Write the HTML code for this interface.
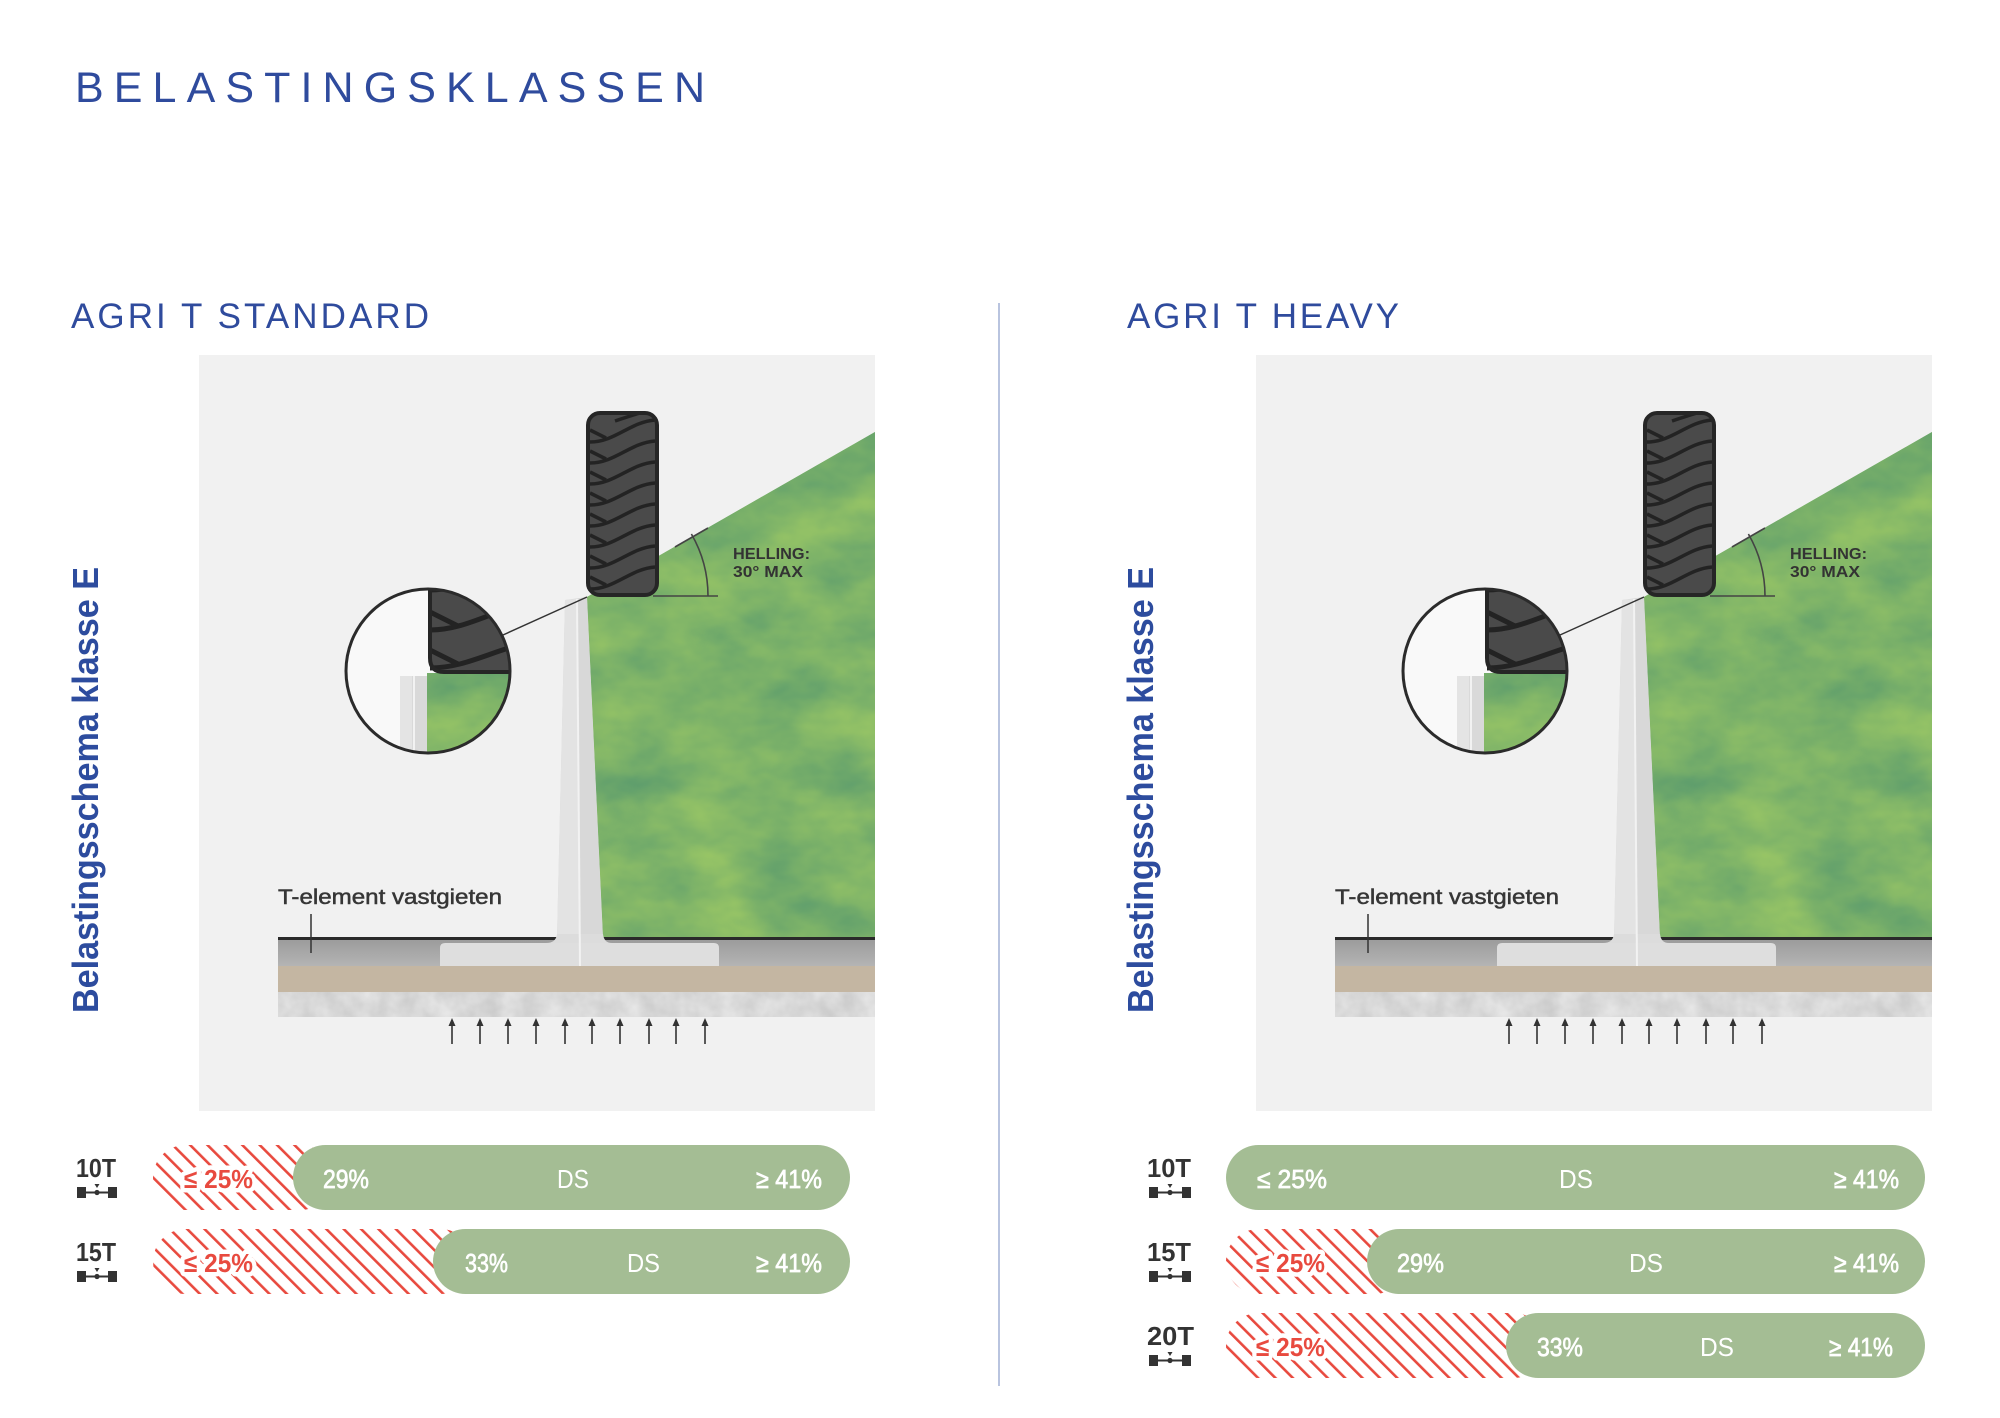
<!DOCTYPE html>
<html>
<head>
<meta charset="utf-8">
<style>
  html,body{margin:0;padding:0;background:#fff;}
  body{width:2000px;height:1418px;overflow:hidden;}
  svg{display:block;}
</style>
</head>
<body>
<svg width="2000" height="1418" viewBox="0 0 2000 1418" xmlns="http://www.w3.org/2000/svg" xmlns:xlink="http://www.w3.org/1999/xlink" font-family="'Liberation Sans', Arial, sans-serif">
  <defs>
    <filter id="grass" x="0" y="0" width="1" height="1" color-interpolation-filters="sRGB">
      <feTurbulence type="fractalNoise" baseFrequency="0.012 0.02" numOctaves="4" seed="7"/>
      <feColorMatrix type="matrix" values="0.32 0 0 0 0.33  0.22 0 0 0 0.59  -0.04 0 0 0 0.43  0 0 0 0 1"/>
      <feComposite operator="in" in2="SourceGraphic"/>
    </filter>
    <filter id="concrete" x="0" y="0" width="1" height="1" color-interpolation-filters="sRGB">
      <feTurbulence type="fractalNoise" baseFrequency="0.05" numOctaves="3" seed="3"/>
      <feColorMatrix type="matrix" values="0.14 0 0 0 0.78  0.14 0 0 0 0.78  0.14 0 0 0 0.78  0 0 0 0 1"/>
      <feComposite operator="in" in2="SourceGraphic"/>
    </filter>
    <linearGradient id="grayLayer" x1="0" y1="0" x2="0" y2="1">
      <stop offset="0" stop-color="#9c9c9c"/>
      <stop offset="1" stop-color="#b4b4b4"/>
    </linearGradient>
    <pattern id="hatch" patternUnits="userSpaceOnUse" width="12.3" height="12.3" patternTransform="rotate(-45)">
      <rect x="0" y="0" width="2.6" height="12.3" fill="#e84a3f"/>
    </pattern>
    <clipPath id="tireClip"><rect x="588" y="413" width="69" height="182" rx="12"/></clipPath>
    <clipPath id="circClip"><circle cx="428" cy="671" r="82"/></clipPath>

    <g id="diag">
      <rect x="199" y="355" width="676" height="756" fill="#f1f1f1"/>
      <!-- green slope -->
      <polygon points="587,597 875,432 875,938 603,938" fill="#7db36b"/>
      <polygon points="587,597 875,432 875,938 603,938" fill="#7db36b" filter="url(#grass)"/>
      <!-- ground layers -->
      <rect x="278" y="940" width="597" height="26" fill="url(#grayLayer)"/>
      <rect x="278" y="966" width="597" height="26" fill="#c4b6a2"/>
      <rect x="278" y="992" width="597" height="25" fill="#d8d8d8"/>
      <rect x="278" y="992" width="597" height="25" fill="#d8d8d8" filter="url(#concrete)"/>
      <line x1="278" y1="938.5" x2="557" y2="938.5" stroke="#2a2a2a" stroke-width="3"/>
      <line x1="603" y1="938.5" x2="875" y2="938.5" stroke="#2a2a2a" stroke-width="3"/>
      <!-- base plate -->
      <path d="M440,966 L440,948 Q440,943 445,943 L714,943 Q719,943 719,948 L719,966 Z" fill="#dedede"/>
      <!-- wall -->
      <polygon points="565,600 587,597 603,938 557,938" fill="#d8d8d8"/>
      <polygon points="565,600 577,599 579,938 557,938" fill="#e3e3e3"/>
      <path d="M557,934 Q556,943 546,943 L612,943 Q604,943 603,934 Z" fill="#dcdcdc"/>
      <line x1="577" y1="599" x2="580" y2="966" stroke="#f2f2f2" stroke-width="2"/>
      <!-- arrows -->
      <g stroke="#333" stroke-width="1.6" fill="#333">
        <line x1="452" y1="1044" x2="452" y2="1024"/><polygon points="448.5,1026 452,1018 455.5,1026" stroke="none"/>
        <line x1="480" y1="1044" x2="480" y2="1024"/><polygon points="476.5,1026 480,1018 483.5,1026" stroke="none"/>
        <line x1="508" y1="1044" x2="508" y2="1024"/><polygon points="504.5,1026 508,1018 511.5,1026" stroke="none"/>
        <line x1="536" y1="1044" x2="536" y2="1024"/><polygon points="532.5,1026 536,1018 539.5,1026" stroke="none"/>
        <line x1="565" y1="1044" x2="565" y2="1024"/><polygon points="561.5,1026 565,1018 568.5,1026" stroke="none"/>
        <line x1="592" y1="1044" x2="592" y2="1024"/><polygon points="588.5,1026 592,1018 595.5,1026" stroke="none"/>
        <line x1="620" y1="1044" x2="620" y2="1024"/><polygon points="616.5,1026 620,1018 623.5,1026" stroke="none"/>
        <line x1="649" y1="1044" x2="649" y2="1024"/><polygon points="645.5,1026 649,1018 652.5,1026" stroke="none"/>
        <line x1="676" y1="1044" x2="676" y2="1024"/><polygon points="672.5,1026 676,1018 679.5,1026" stroke="none"/>
        <line x1="705" y1="1044" x2="705" y2="1024"/><polygon points="701.5,1026 705,1018 708.5,1026" stroke="none"/>
      </g>
      <!-- label -->
      <text x="278" y="904" font-size="21" fill="#363636" stroke="#363636" stroke-width="0.5" textLength="224" lengthAdjust="spacingAndGlyphs">T-element vastgieten</text>
      <line x1="311" y1="914" x2="311" y2="953" stroke="#333" stroke-width="1.5"/>
      <!-- tire -->
      <rect x="588" y="413" width="69" height="182" rx="12" fill="#4a4a4a"/>
      <g clip-path="url(#tireClip)" stroke="#232323" stroke-width="3.5" fill="none">
        <path d="M590,442 C615,442 630,422 655,420"/><path d="M590,430 L606,438"/>
        <path d="M590,463 C615,463 630,443 655,441"/><path d="M590,451 L606,459"/>
        <path d="M590,484 C615,484 630,464 655,462"/><path d="M590,472 L606,480"/>
        <path d="M590,505 C615,505 630,485 655,483"/><path d="M590,493 L606,501"/>
        <path d="M590,526 C615,526 630,506 655,504"/><path d="M590,514 L606,522"/>
        <path d="M590,547 C615,547 630,527 655,525"/><path d="M590,535 L606,543"/>
        <path d="M590,568 C615,568 630,548 655,546"/><path d="M590,556 L606,564"/>
        <path d="M590,589 C615,589 630,569 655,567"/><path d="M590,577 L606,585"/>
        <path d="M615,421 Q630,416 640,413"/>
      </g>
      <rect x="588" y="413" width="69" height="182" rx="12" fill="none" stroke="#262626" stroke-width="4"/>
      <!-- angle -->
      <line x1="653" y1="596" x2="718" y2="596" stroke="#444" stroke-width="1.6"/>
      <path d="M708,596 A124,124 0 0 0 691.4,534" fill="none" stroke="#444" stroke-width="1.6"/>
      <line x1="675" y1="547" x2="708" y2="528" stroke="#444" stroke-width="1.6"/>
      <text x="733" y="559" font-size="16" font-weight="bold" fill="#333" textLength="77" lengthAdjust="spacingAndGlyphs">HELLING:</text>
      <text x="733" y="577" font-size="16" font-weight="bold" fill="#333" textLength="70" lengthAdjust="spacingAndGlyphs">30° MAX</text>
      <!-- leader -->
      <line x1="503" y1="635" x2="587" y2="597" stroke="#333" stroke-width="1.5"/>
      <!-- magnifier -->
      <circle cx="428" cy="671" r="82" fill="#f9f9f9"/>
      <g clip-path="url(#circClip)">
        <rect x="427" y="673" width="110" height="90" fill="#86bb64"/>
        <rect x="427" y="673" width="110" height="90" fill="#86bb64" filter="url(#grass)"/>
        <path d="M400,763 L400,680 Q400,676 404,676 L427,676 L427,763 Z" fill="#d9d9d9"/>
        <rect x="400" y="676" width="12" height="90" fill="#e4e4e4"/>
        <line x1="414" y1="676" x2="414" y2="763" stroke="#f2f2f2" stroke-width="2"/>
        <path d="M430,560 L560,560 L560,672 L444,672 Q430,672 430,658 Z" fill="#4a4a4a"/>
        <g stroke="#232323" stroke-width="5" fill="none">
          <path d="M430,590 C470,590 500,565 545,560"/><path d="M430,576 L458,586"/>
          <path d="M430,630 C470,630 500,605 545,600"/><path d="M430,612 L458,626"/>
          <path d="M430,668 C470,668 500,645 545,640"/><path d="M430,650 L458,664"/>
          <path d="M470,570 L490,580"/>
        </g>
        <path d="M430,560 L430,658 Q430,672 444,672 L560,672" fill="none" stroke="#262626" stroke-width="4"/>
      </g>
      <circle cx="428" cy="671" r="82" fill="none" stroke="#2b2b2b" stroke-width="3"/>
    </g>
  </defs>

  <!-- Title -->
  <text x="75" y="102" font-size="43" fill="#2f4b9d" textLength="630" lengthAdjust="spacing">BELASTINGSKLASSEN</text>

  <!-- Section titles -->
  <text x="71" y="328" font-size="35" fill="#2f4b9d" textLength="358" lengthAdjust="spacing">AGRI T STANDARD</text>
  <text x="1127" y="328" font-size="35" fill="#2f4b9d" textLength="272" lengthAdjust="spacing">AGRI T HEAVY</text>

  <!-- Divider -->
  <line x1="999" y1="303" x2="999" y2="1386" stroke="#b9c4df" stroke-width="2"/>

  <!-- Vertical labels -->
  <text transform="translate(98,1013) rotate(-90)" font-size="36" font-weight="bold" fill="#2d4c9e" textLength="446" lengthAdjust="spacingAndGlyphs">Belastingsschema klasse E</text>
  <text transform="translate(1153,1013) rotate(-90)" font-size="36" font-weight="bold" fill="#2d4c9e" textLength="446" lengthAdjust="spacingAndGlyphs">Belastingsschema klasse E</text>

  <!-- Diagrams -->
  <use xlink:href="#diag" href="#diag"/>
  <use xlink:href="#diag" href="#diag" x="1057"/>

  <!-- Row labels with axle icons -->
  <g font-size="26" font-weight="bold" fill="#333">
    <text x="76" y="1177" textLength="40" lengthAdjust="spacingAndGlyphs">10T</text>
    <text x="76" y="1261" textLength="40" lengthAdjust="spacingAndGlyphs">15T</text>
    <text x="1147" y="1177" textLength="44" lengthAdjust="spacingAndGlyphs">10T</text>
    <text x="1147" y="1261" textLength="44" lengthAdjust="spacingAndGlyphs">15T</text>
    <text x="1147" y="1345" textLength="47" lengthAdjust="spacingAndGlyphs">20T</text>
  </g>
  <g fill="#333" stroke="#333">
    <g transform="translate(77,1187)">
      <rect x="0" y="0" width="9" height="11" stroke="none"/><rect x="31" y="0" width="9" height="11" stroke="none"/>
      <line x1="9" y1="5.5" x2="31" y2="5.5" stroke-width="2"/><circle cx="20" cy="5.5" r="2.6" stroke="none"/>
      <polygon points="17.5,-3 22.5,-3 20,1" stroke="none"/>
    </g>
    <g transform="translate(77,1271)">
      <rect x="0" y="0" width="9" height="11" stroke="none"/><rect x="31" y="0" width="9" height="11" stroke="none"/>
      <line x1="9" y1="5.5" x2="31" y2="5.5" stroke-width="2"/><circle cx="20" cy="5.5" r="2.6" stroke="none"/>
      <polygon points="17.5,-3 22.5,-3 20,1" stroke="none"/>
    </g>
    <g transform="translate(1149,1187)">
      <rect x="0" y="0" width="9" height="11" stroke="none"/><rect x="33" y="0" width="9" height="11" stroke="none"/>
      <line x1="9" y1="5.5" x2="33" y2="5.5" stroke-width="2"/><circle cx="21" cy="5.5" r="2.6" stroke="none"/>
      <polygon points="18.5,-3 23.5,-3 21,1" stroke="none"/>
    </g>
    <g transform="translate(1149,1271)">
      <rect x="0" y="0" width="9" height="11" stroke="none"/><rect x="33" y="0" width="9" height="11" stroke="none"/>
      <line x1="9" y1="5.5" x2="33" y2="5.5" stroke-width="2"/><circle cx="21" cy="5.5" r="2.6" stroke="none"/>
      <polygon points="18.5,-3 23.5,-3 21,1" stroke="none"/>
    </g>
    <g transform="translate(1149,1355)">
      <rect x="0" y="0" width="9" height="11" stroke="none"/><rect x="33" y="0" width="9" height="11" stroke="none"/>
      <line x1="9" y1="5.5" x2="33" y2="5.5" stroke-width="2"/><circle cx="21" cy="5.5" r="2.6" stroke="none"/>
      <polygon points="18.5,-3 23.5,-3 21,1" stroke="none"/>
    </g>
  </g>

  <!-- Hatched regions -->
  <rect x="153" y="1145" width="180" height="65" rx="32.5" fill="url(#hatch)"/>
  <rect x="153" y="1229" width="320" height="65" rx="32.5" fill="url(#hatch)"/>
  <rect x="1226" y="1229" width="181" height="65" rx="32.5" fill="url(#hatch)"/>
  <rect x="1226" y="1313" width="320" height="65" rx="32.5" fill="url(#hatch)"/>

  <!-- Green pills -->
  <g fill="#a4bd94">
    <rect x="293" y="1145" width="557" height="65" rx="32.5"/>
    <rect x="433" y="1229" width="417" height="65" rx="32.5"/>
    <rect x="1226" y="1145" width="699" height="65" rx="32.5"/>
    <rect x="1367" y="1229" width="558" height="65" rx="32.5"/>
    <rect x="1506" y="1313" width="419" height="65" rx="32.5"/>
  </g>

  <!-- Red labels -->
  <g font-size="26" font-weight="bold" fill="#e84a3f" stroke="#ffffff" stroke-width="9" stroke-linejoin="round" style="paint-order:stroke">
    <text x="184" y="1188" textLength="69" lengthAdjust="spacingAndGlyphs">≤ 25%</text>
    <text x="184" y="1272" textLength="69" lengthAdjust="spacingAndGlyphs">≤ 25%</text>
    <text x="1256" y="1272" textLength="69" lengthAdjust="spacingAndGlyphs">≤ 25%</text>
    <text x="1256" y="1356" textLength="69" lengthAdjust="spacingAndGlyphs">≤ 25%</text>
  </g>

  <!-- White labels -->
  <g font-size="26" fill="#ffffff" stroke="#ffffff" stroke-width="0.7">
    <text x="323" y="1188" textLength="46" lengthAdjust="spacingAndGlyphs">29%</text>
    <text x="756" y="1188" textLength="66" lengthAdjust="spacingAndGlyphs">≥ 41%</text>
    <text x="465" y="1272" textLength="43" lengthAdjust="spacingAndGlyphs">33%</text>
    <text x="756" y="1272" textLength="66" lengthAdjust="spacingAndGlyphs">≥ 41%</text>
    <text x="1257" y="1188" textLength="70" lengthAdjust="spacingAndGlyphs">≤ 25%</text>
    <text x="1834" y="1188" textLength="65" lengthAdjust="spacingAndGlyphs">≥ 41%</text>
    <text x="1397" y="1272" textLength="47" lengthAdjust="spacingAndGlyphs">29%</text>
    <text x="1834" y="1272" textLength="65" lengthAdjust="spacingAndGlyphs">≥ 41%</text>
    <text x="1537" y="1356" textLength="46" lengthAdjust="spacingAndGlyphs">33%</text>
    <text x="1829" y="1356" textLength="64" lengthAdjust="spacingAndGlyphs">≥ 41%</text>
  </g>
  <g font-size="26" fill="#ffffff">
    <text x="557" y="1188" textLength="32" lengthAdjust="spacingAndGlyphs">DS</text>
    <text x="627" y="1272" textLength="33" lengthAdjust="spacingAndGlyphs">DS</text>
    <text x="1559" y="1188" textLength="34" lengthAdjust="spacingAndGlyphs">DS</text>
    <text x="1629" y="1272" textLength="34" lengthAdjust="spacingAndGlyphs">DS</text>
    <text x="1700" y="1356" textLength="34" lengthAdjust="spacingAndGlyphs">DS</text>
  </g>
</svg>
</body>
</html>
